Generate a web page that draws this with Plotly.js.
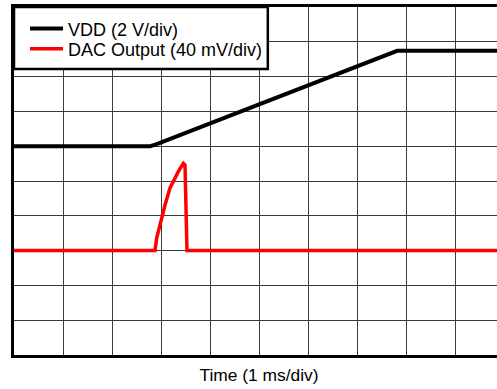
<!DOCTYPE html>
<html>
<head>
<meta charset="utf-8">
<script src="https://cdn.plot.ly/plotly-3.0.1.min.js"></script>
<style>
html,body{margin:0;padding:0;overflow:hidden;background:#fff;}
#chart{width:510px;height:389px;}
</style>
</head>
<body>
<div id="chart"></div>
<script>
// Values in oscilloscope divisions
const vddTime = [0, 2.78, 2.9, 7.82, 10];
const vddLevel = [6.0, 6.0, 6.05, 8.74, 8.74];
const dacTime = [0, 2.878, 2.912, 3.014, 3.082, 3.184, 3.251, 3.353, 3.455, 3.49, 3.53, 10];
const dacLevel = [3.0, 3.0, 3.36, 3.99, 4.31, 4.80, 5.0, 5.27, 5.51, 5.46, 3.0, 3.0];
const seriesNames = ['VDD (2 V/div)', 'DAC Output (40 mV/div)'];
const xTitle = 'Time (1 ms/div)';

const fam = 'Liberation Sans, Arial, Helvetica, sans-serif';
const legendFont = {family: fam, color: '#000', size: 18};
const titleFont = {family: fam, color: '#000', size: 17.4};

const traces = [
  {x: vddTime, y: vddLevel, name: seriesNames[0], mode: 'lines', line: {color: '#000', width: 4}, legend: 'legend'},
  {x: dacTime, y: dacLevel, name: seriesNames[1], mode: 'lines', line: {color: '#ff0000', width: 3.5}, legend: 'legend2'}
];

const axisCommon = {
  range: [0, 10], dtick: 1, tick0: 0, showticklabels: false, ticks: '',
  showgrid: true, gridcolor: '#3a3a3a', gridwidth: 1, zeroline: false,
  showline: true, linecolor: '#000', linewidth: 3, mirror: true, fixedrange: true
};

const legendCommon = {x: 0.0225, xanchor: 'left', yanchor: 'middle', bgcolor: 'rgba(0,0,0,0)', borderwidth: 0, font: legendFont, itemwidth: 33};

const layout = {
  width: 510, height: 389,
  margin: {l: 14, r: 6, t: 7, b: 34},
  paper_bgcolor: '#fff', plot_bgcolor: '#fff',
  font: legendFont,
  showlegend: true,
  legend: Object.assign({}, legendCommon, {y: 0.937}),
  legend2: Object.assign({}, legendCommon, {y: 0.879}),
  shapes: [{type: 'rect', xref: 'paper', yref: 'paper', x0: 0, x1: 0.518, y0: 0.822, y1: 1,
            fillcolor: '#fff', line: {color: '#000', width: 2.5}, layer: 'above'}],
  xaxis: Object.assign({}, axisCommon, {title: {text: xTitle, font: titleFont, standoff: 12}, automargin: false}),
  yaxis: Object.assign({}, axisCommon, {automargin: false})
};

Plotly.newPlot('chart', traces, layout, {displayModeBar: false, staticPlot: true});
</script>
</body>
</html>
